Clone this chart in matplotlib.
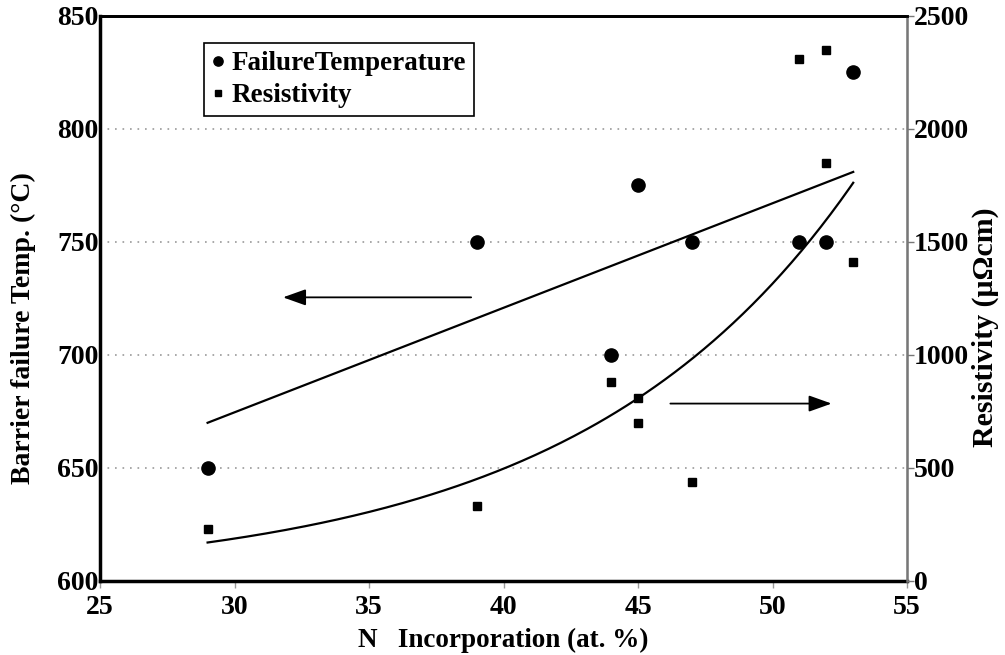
import matplotlib
matplotlib.use('Agg')
import matplotlib.pyplot as plt
import numpy as np

# barrier failure temperature vs nitrogen content
n_temp = [29, 39, 44, 45, 47, 51, 52, 53]
fail_temp = [650, 750, 700, 775, 750, 750, 750, 825]

# sheet resistivity vs nitrogen content
n_res = [29, 39, 44, 45, 45, 47, 51, 52, 52, 53]
resistivity = [230, 330, 880, 810, 700, 440, 2310, 2350, 1850, 1410]

# linear trend of the failure temperature (end points)
trend_n = [29, 53]
trend_temp = [670, 781]

x_ticks = [25, 30, 35, 40, 45, 50, 55]
temp_ticks = [600, 650, 700, 750, 800, 850]
res_ticks = [0, 500, 1000, 1500, 2000, 2500]

plt.rcParams['font.family'] = ['Liberation Serif', 'DejaVu Serif']
plt.rcParams['font.weight'] = 'bold'
plt.rcParams['font.size'] = 20

fig = plt.figure(figsize=(10.05, 6.55), dpi=100)
ax = fig.add_axes([0.0995, 0.113, 0.803, 0.8626])
ax2 = ax.twinx()

# exponential trend of resistivity
b, ln_a = np.polyfit(n_res, np.log(resistivity), 1)
xs = np.linspace(min(n_res), max(n_res), 200)

ax.plot(trend_n, trend_temp, color='black', lw=1.6)
ax2.plot(xs, np.exp(ln_a + b * xs), color='black', lw=1.6)

h1, = ax.plot(n_temp, fail_temp, 'o', color='black', ms=9.5, ls='none',
              label='FailureTemperature')
h2, = ax2.plot(n_res, resistivity, 's', color='black', ms=5.8, ls='none',
               label='Resistivity')

ax.set_xlim(25, 55)
ax.set_ylim(600, 850)
ax2.set_ylim(0, 2500)
ax.set_xticks(x_ticks)
ax.set_yticks(temp_ticks)
ax2.set_yticks(res_ticks)

ax.yaxis.grid(True, linestyle=(0, (1, 3.5)), color='#999999', lw=1.2)
ax.set_axisbelow(True)

for s in ['left', 'bottom']:
    ax.spines[s].set_linewidth(2.5)
ax.spines['top'].set_linewidth(2)
ax2.spines['top'].set_linewidth(2)
ax2.spines['right'].set_color('#777777')
ax2.spines['right'].set_linewidth(1.8)
ax2.spines['left'].set_visible(False)
ax2.spines['bottom'].set_visible(False)

ax.tick_params(axis='y', length=0, pad=1)
ax.tick_params(axis='x', direction='out', length=5, width=1, color='#999999', pad=5)
ax2.tick_params(axis='y', direction='out', length=5, width=1, color='#777777', pad=0)

ax.set_xlabel('N   Incorporation (at. %)', fontweight='bold', fontsize=19.5, labelpad=6)
ax.set_ylabel('Barrier failure Temp. (°C)', fontweight='bold', labelpad=15)
ax2.set_ylabel('Resistivity (μΩcm)', fontweight='bold', fontsize=21.5, labelpad=2)
# both y titles sit a little below the axis middle
ax.yaxis.label.set_y(0.448)
ax2.yaxis.label.set_y(0.45)

# arrows pointing to the matching axis
ax.annotate('', xy=(31.7, 725.5), xytext=(38.9, 725.5),
            arrowprops=dict(arrowstyle='-|>,head_length=0.7,head_width=0.25',
                            color='black', lw=1.3))
ax.annotate('', xy=(52.3, 678.5), xytext=(46.1, 678.5),
            arrowprops=dict(arrowstyle='-|>,head_length=0.7,head_width=0.25',
                            color='black', lw=1.3))

leg = ax2.legend(handles=[h1, h2], loc='upper left', bbox_to_anchor=(0.129, 0.952),
                 borderaxespad=0, fancybox=False, edgecolor='black', framealpha=1,
                 handlelength=0.4, handletextpad=0.3, borderpad=0.3,
                 labelspacing=0.25, prop={'weight': 'bold', 'size': 19.5},
                 markerscale=0.7)
leg.get_frame().set_linewidth(1.2)
for t in leg.get_texts():
    t.set_fontweight('bold')

fig.savefig('out.png', dpi=100)
